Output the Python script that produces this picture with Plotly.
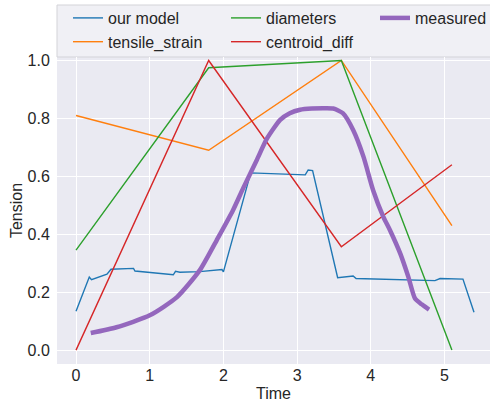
import plotly.graph_objects as go

# ---- data ----
model_t = [0.0, 0.18, 0.21, 0.42, 0.475, 0.78, 0.80, 1.03, 1.32, 1.35, 1.41, 1.68, 1.98, 2.0,
           2.37, 3.11, 3.15, 3.21, 3.55, 3.76, 3.80, 4.87, 4.94, 5.25, 5.4]
model_v = [0.134, 0.252, 0.243, 0.262, 0.279, 0.282, 0.273, 0.268, 0.26, 0.272, 0.269, 0.271, 0.278, 0.27,
           0.612, 0.605, 0.622, 0.62, 0.25, 0.256, 0.247, 0.24, 0.247, 0.245, 0.131]

key_t = [0.0, 1.8, 3.6, 5.1]
tensile_strain = [0.81, 0.69, 1.0, 0.43]
diameters = [0.345, 0.975, 1.0, 0.0]
centroid_diff = [0.0, 1.0, 0.357, 0.64]

measured_t = [0.2, 0.55, 1.0, 1.37, 1.68, 1.91, 2.13, 2.27, 2.45, 2.59, 2.77, 2.9, 3.04, 3.2, 3.35, 3.49,
              3.62, 3.76, 3.9, 4.03, 4.17, 4.26, 4.4, 4.51, 4.6, 4.69, 4.79]
measured_v = [0.059, 0.079, 0.12, 0.183, 0.276, 0.38, 0.483, 0.56, 0.655, 0.73, 0.795, 0.818, 0.83, 0.834,
              0.835, 0.834, 0.818, 0.76, 0.668, 0.553, 0.46, 0.414, 0.333, 0.252, 0.178, 0.158, 0.14]

x_ticks = [0, 1, 2, 3, 4, 5]
y_ticks = [0.0, 0.2, 0.4, 0.6, 0.8, 1.0]
y_tick_text = ["0.0", "0.2", "0.4", "0.6", "0.8", "1.0"]

# ---- layout geometry (px) ----
W, H = 490, 406
ML, MR, MT, MB = 57, 0, 57, 42
PW, PH = W - ML - MR, H - MT - MB

def px_x(p):
    return (p - ML) / PW

def px_y(p):
    return (H - MB - p) / PH

FONT = "Liberation Sans, Arial, sans-serif"
TXT = "#262626"

fig = go.Figure()
fig.add_trace(go.Scatter(x=model_t, y=model_v, mode="lines", name="our model",
                         line=dict(color="#1f77b4", width=1.4), legend="legend"))
fig.add_trace(go.Scatter(x=key_t, y=tensile_strain, mode="lines", name="tensile_strain",
                         line=dict(color="#ff7f0e", width=1.4), legend="legend"))
fig.add_trace(go.Scatter(x=key_t, y=diameters, mode="lines", name="diameters",
                         line=dict(color="#2ca02c", width=1.4), legend="legend2"))
fig.add_trace(go.Scatter(x=key_t, y=centroid_diff, mode="lines", name="centroid_diff",
                         line=dict(color="#d62728", width=1.4), legend="legend2"))
fig.add_trace(go.Scatter(x=measured_t, y=measured_v, mode="lines", name="measured",
                         line=dict(color="#9467bd", width=4.5, shape="spline", smoothing=0.6),
                         legend="legend3"))

leg_common = dict(bgcolor="rgba(0,0,0,0)", borderwidth=0, font=dict(family=FONT, size=16, color=TXT),
                  xanchor="left", yanchor="top", orientation="v", y=px_y(1))

# legend frame (drawn as a shape)
x0, x1 = px_x(57), px_x(500)
y0, y1 = px_y(57), px_y(5)
fig.add_shape(type="rect", xref="paper", yref="paper", x0=x0, x1=x1, y0=y0, y1=y1,
              fillcolor="#F0F0F5", line=dict(color="#D3D3D8", width=1), layer="below")

fig.update_layout(
    width=W, height=H,
    margin=dict(l=ML, r=MR, t=MT, b=MB, pad=0, autoexpand=False),
    paper_bgcolor="white",
    plot_bgcolor="#EAEAF2",
    font=dict(family=FONT, size=16, color=TXT),
    showlegend=True,
    legend=dict(**leg_common, x=px_x(68)),
    legend2=dict(**leg_common, x=px_x(226)),
    legend3=dict(**leg_common, x=px_x(375)),
    xaxis=dict(range=[-0.258, 5.617], tickvals=x_ticks, showgrid=True, gridcolor="white", gridwidth=1,
               zeroline=False, showline=False, ticks="", automargin=False,
               tickfont=dict(size=16, color=TXT),
               title=dict(text="Time", font=dict(size=16, color=TXT), standoff=4)),
    yaxis=dict(range=[-0.048, 1.012], tickvals=y_ticks, ticktext=y_tick_text, showgrid=True,
               gridcolor="white", gridwidth=1, zeroline=False, showline=False, automargin=False,
               ticks="outside", ticklen=3, tickcolor="rgba(0,0,0,0)",
               tickfont=dict(size=16, color=TXT),
               title=dict(text="Tension", font=dict(size=16, color=TXT), standoff=0)),
)

fig.write_html("out.html", config={"displayModeBar": False},
               post_script="document.body.style.margin='0';document.body.style.padding='0';")
